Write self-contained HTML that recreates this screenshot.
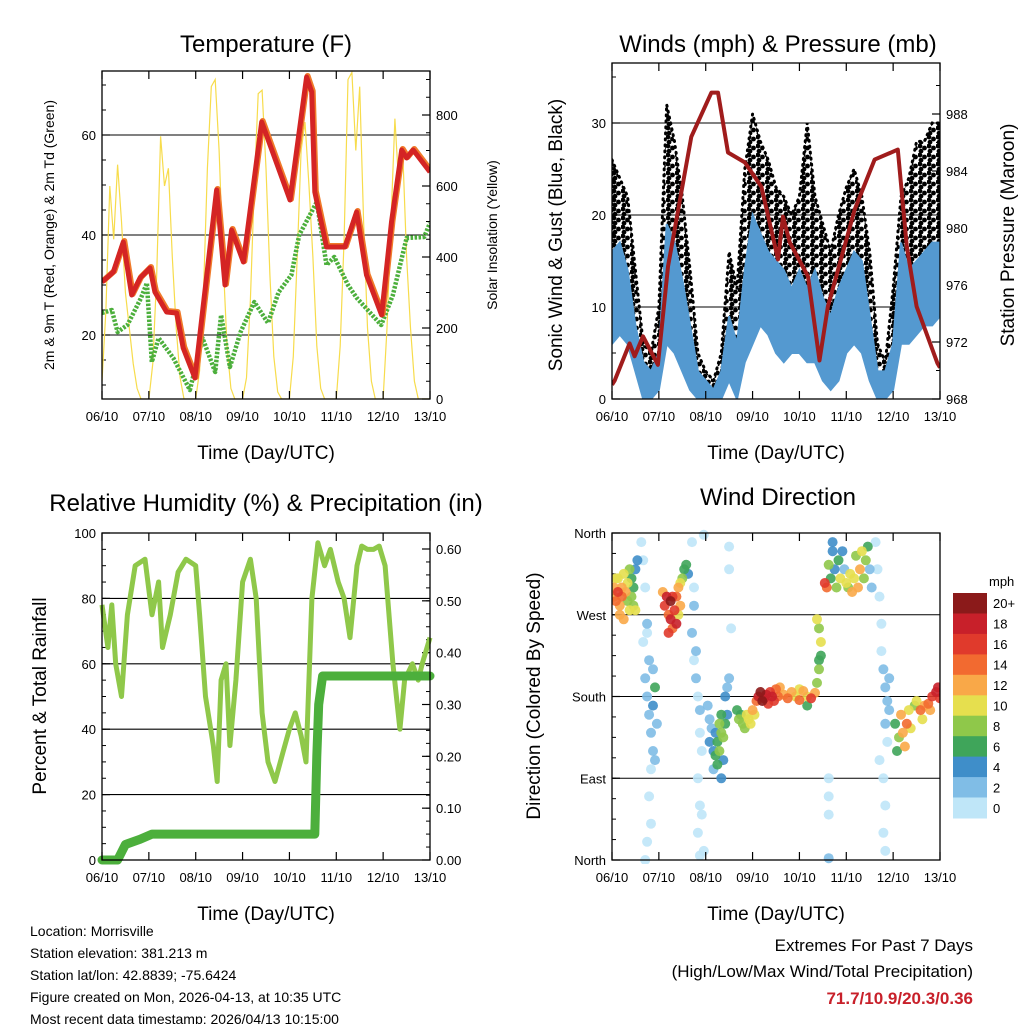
<!DOCTYPE html>
<html><head><meta charset="utf-8"><style>
html,body{margin:0;padding:0;background:#fff;}
svg{display:block;font-family:"Liberation Sans",sans-serif;}
</style></head><body>
<svg id="chart" width="1024" height="1024" viewBox="0 0 1024 1024" xmlns="http://www.w3.org/2000/svg">
<defs>
<pattern id="gustDots" width="9" height="9" patternUnits="userSpaceOnUse">
<circle cx="2" cy="2" r="2.4" fill="#000"/><circle cx="6.5" cy="4" r="2.4" fill="#000"/><circle cx="3" cy="7.2" r="2.4" fill="#000"/>
</pattern>
</defs>
<g id="root"></g>
</svg>
<script>
// ---------- data ----------
const dayLabels = ["06/10","07/10","08/10","09/10","10/10","11/10","12/10","13/10"];
// Temperature
const tempHours = [0,5.8,10.9,15.2,19.5,24.6,27.1,33.1,38.2,41.6,47.6,58.7,63,66.4,72.4,81.8,96.3,104.8,107.4,109,115,124.4,130.4,135.5,143.2,148.3,153.5,156,159.4,168];
const tempValues = [30.6,32.6,38.6,28,31.4,33.4,28.6,24.6,24.4,17.4,11.4,49,30,41,34.6,62.6,47,71.6,68.6,48.6,37.6,37.6,44.6,32,24,42.6,57,55.4,57,52.6];
const dewHours = [0,5,8,13,20,23,25.5,29,36.5,45,51.5,58,61,65.5,71,78,85,90.5,97,101,110,115,119,126,130.5,143,149,156,165,168];
const dewValues = [24.4,25,20.6,22,27.4,30.4,14.6,19.4,15.4,9,19.4,12.6,24,13.6,20.6,26.6,22.4,28.6,32,40,46.6,34,35.6,30,27.4,22,28,39.4,39.6,42.4];
// Solar insolation every 2 h from hour 0 to 168
const solarValues = [50,250,600,450,660,500,300,200,100,30,0,0,
 0,100,350,740,600,650,400,200,60,0,0,0,
 0,80,300,650,880,900,700,400,150,30,0,0,
 0,60,280,600,860,870,650,350,120,20,0,0,
 0,120,400,700,780,600,400,150,30,0,0,0,
 0,150,450,900,920,700,880,500,200,50,0,0,
 0,200,500,790,600,700,400,200,50,0,0,0,0];
// Winds every 4 h
const windHoursStep = 4;
const windLo = [6,7,6,3,0,0,1,6,5,3,1,0,0,0,0,2,0,4,6,8,7,5,4,5,5,4,4,2,1,2,5,6,5,2,0,0,1,6,6,7,8,8,9];
const windHi = [16,17,14,8,4,3,5,19,17,13,8,3,2,1,3,9,6,14,20,18,16,15,14,12,14,12,14,11,9,12,14,16,15,9,3,3,6,17,14,15,16,17,17];
const gustLo = [12,14,12,5,1,0,3,14,12,9,4,1,1,0,1,5,1,9,13,15,14,11,10,11,11,10,10,7,5,8,11,13,12,6,1,1,3,13,12,14,15,15,16];
const gustHi = [26,24,22,14,6,5,10,32,28,22,14,5,3,2,5,16,12,25,31,28,26,23,22,20,22,30,22,19,16,20,23,25,22,16,6,4,12,22,24,28,28,30,30];
const presHours = [0,1.4,9,11.6,15.9,23.5,28.7,40.6,50.9,54.3,59.4,68,76.5,85,87.6,91,100.4,106.3,110.6,124.3,134.5,146.4,151,156,166.7,168];
const presValues = [969,969.3,971.9,971,972.4,970.4,977.3,986.4,989.5,989.5,985.3,984.6,982.9,977.8,980.8,979,976.6,970.7,974.5,981.3,984.8,985.5,978.7,974.5,970.5,970.2];
// RH & precip
const rhHours = [0,3,5,7,10,13,17,22,25.6,29,31,35,39,43,48,50,53,57,59,61,63.5,65.5,68.6,72,76,79,82,85,88.6,92.7,96,99,102,104.5,107.5,110.6,114,117,121,124,127,130.6,133,136,139,142,145,149,152.6,155,159,162,164,168];
const rhValues = [78,65,78,60,50,75,90,92,75,85,65,75,88,92,90,75,50,35,24,55,60,35,55,85,92,80,45,30,24,33,40,45,38,30,80,97,90,95,85,80,68,90,96,95,95,96,90,60,40,55,60,55,60,68];
const precipHours = [0,8,12,19.5,25.6,109,110,111,113,168];
const precipValues = [0,0,0.03,0.04,0.05,0.05,0.20,0.30,0.355,0.355];
// Wind direction scatter
const dirHours = [1,1,2,3,3,4,5,5,6,7,8,8,9,10,10,11,12,13,12,4,6,2,9,11,
 15,16,17,18,16,17,18,19,20,21,22,21,20,19,20,18,17,22,23,21,19,18,
 26,27,28,29,30,30,31,32,33,33,34,35,36,37,38,39,35,29,31,34,
 41,42,42,41,42,43,43,44,45,45,46,44,45,44,45,47,46,47,
 49,50,50,51,52,52,53,53,54,54,55,55,56,56,57,57,58,58,59,60,59,56,
 60,60,61,
 64,65,66,67,68,69,70,71,72,73,74,
 75,76,77,78,79,80,81,82,83,84,85,86,
 88,90,92,94,96,98,100,102,104,105,106,107,107,106,105,106,100,96,
 111,111,111,111,
 109,110,111,112,113,113,114,115,116,117,118,119,120,121,122,123,124,125,126,127,128,129,130,131,132,133,
 135,136,137,138,138,139,140,141,142,140,141,139,140,139,140,137,142,
 145,146,147,148,149,150,151,152,153,155,156,158,160,162,164,166,167,163,159,168];
const dirDegs = [290,300,285,295,310,280,300,290,315,295,285,305,275,290,310,300,320,330,275,270,265,310,320,280,
 350,330,300,260,240,200,180,160,140,170,190,120,100,70,40,20,0,110,150,210,220,250,
 295,280,290,270,265,285,290,275,290,260,300,305,310,320,325,315,280,250,255,270,
 350,300,280,250,220,200,230,180,165,140,120,90,60,30,5,10,50,358,
 170,155,130,145,120,100,140,115,130,105,150,120,140,160,135,110,150,180,190,200,160,90,
 345,320,255,
 165,155,160,150,145,160,155,150,165,160,175,
 180,185,175,178,182,172,185,180,175,188,180,190,
 182,178,185,180,176,186,180,178,184,195,210,225,240,255,265,220,170,188,
 90,70,50,2,
 305,300,325,310,340,350,320,300,330,310,340,320,305,300,315,295,310,335,300,320,340,310,330,345,320,300,
 350,320,290,260,230,210,190,175,165,150,130,90,60,30,10,110,200,
 150,120,135,160,140,125,150,165,145,170,175,165,170,172,180,185,190,165,155,178];
const dirSpeeds = [13,12,14,16,11,12,13,15,10,12,9,11,10,8,7,6,5,4,10,13,12,10,9,8,
 1,1,1,2,1,2,3,2,3,4,7,2,1,1,1,1,1,3,2,2,3,1,
 12,16,18,15,18,20,17,16,14,18,12,10,8,6,7,5,12,16,15,11,
 1,1,2,2,1,2,2,1,2,1,1,1,1,1,1,1,1,1,
 3,3,4,3,4,3,5,6,7,6,8,8,9,7,8,5,6,4,3,2,5,5,
 1,1,1,
 6,8,7,9,8,10,11,10,12,11,14,
 18,20,20,19,18,17,16,18,16,14,15,12,
 12,14,13,11,15,12,10,16,12,8,9,6,10,9,10,7,6,10,
 1,1,1,2,
 16,14,8,7,4,4,5,9,6,10,4,3,10,9,11,12,10,8,13,12,10,8,9,6,3,2,
 1,1,1,1,1,2,3,2,3,2,1,1,1,1,1,1,3,
 6,6,8,12,13,12,14,11,10,8,11,14,13,15,16,18,18,12,11,17];
const speedColors = ["#bfe6f8","#80bde6","#3f8ec9","#3fa55a","#8fc84a","#e6df4e","#f9a848","#f26a30","#e03a2c","#c8202a","#8b1a1a"];
const speedLabels = ["0","2","4","6","8","10","12","14","16","18","20+"];

// ---------- helpers ----------
const NS = "http://www.w3.org/2000/svg";
const root = document.getElementById("root");
function mk(tag, attrs, parent, text){
  const e = document.createElementNS(NS, tag);
  for (const k in attrs) e.setAttribute(k, attrs[k]);
  if (text !== undefined) e.textContent = text;
  (parent || root).appendChild(e);
  return e;
}
function linScale(d0,d1,r0,r1){ return v => r0 + (v-d0)/(d1-d0)*(r1-r0); }
function pathFrom(xs, ys, fx, fy){
  let d = "";
  for (let i=0;i<xs.length;i++) d += (i?"L":"M") + fx(xs[i]).toFixed(1) + "," + fy(ys[i]).toFixed(1);
  return d;
}

function panelFrame(g, x0, y0, x1, y1){
  const r = mk("rect",{x:x0,y:y0,width:x1-x0,height:y1-y0,fill:"none",stroke:"#000","stroke-width":1.3},g);
  
  
}
function xAxis(g, x0, x1, y0, y1){
  const fx = linScale(0,168,x0,x1);
  for (let i=0;i<dayLabels.length;i++){
    const x = fx(i*24);
    mk("line",{x1:x,x2:x,y1:y1,y2:y1-8,stroke:"#000","stroke-width":1.2},g);
    mk("line",{x1:x,x2:x,y1:y0,y2:y0+8,stroke:"#000","stroke-width":1.2},g);
    const t = mk("text",{x:x,y:y1+22,"font-size":13,"text-anchor":"middle"},g,dayLabels[i]);
    
    
  }
  const tt = mk("text",{x:(x0+x1)/2,y:y1+60,"font-size":19,"text-anchor":"middle"},g,"Time (Day/UTC)");
  
  
}
function yTicks(g, vals, labels, fy, xEdge, side, x0, x1, grid, minorVals){
  for (let i=0;i<vals.length;i++){
    const y = fy(vals[i]);
    const dir = side==="left"?1:-1;
    mk("line",{x1:xEdge,x2:xEdge+dir*8,y1:y,y2:y,stroke:"#000","stroke-width":1.2},g);
    if (grid) mk("line",{x1:x0,x2:x1,y1:y,y2:y,stroke:"#000","stroke-width":1.1},g);
    const t = mk("text",{x: side==="left"? xEdge-6 : xEdge+6, y:y+5,"font-size":13,"text-anchor": side==="left"?"end":"start"},g,labels[i]);
    
    
  }
  if (minorVals) for (const v of minorVals){
    const y = fy(v); const dir = side==="left"?1:-1;
    mk("line",{x1:xEdge,x2:xEdge+dir*4,y1:y,y2:y,stroke:"#000","stroke-width":1},g);
  }
}
function vTitle(g, x, y, size, txt, name){
  const t = mk("text",{x:x,y:y,"font-size":size,"text-anchor":"middle",transform:`rotate(-90 ${x} ${y})`},g,txt);
  
  
}
function title(g, x, y, txt, name){
  const t = mk("text",{x:x,y:y,"font-size":24,"text-anchor":"middle"},g,txt);
  
  
}
function range(a,b,s){ const r=[]; for(let v=a; v<=b+1e-9; v+=s) r.push(+v.toFixed(4)); return r; }

// ---------- Panel 1: Temperature ----------
{
  const g = mk("g",{});
  
  
  const X0=102,X1=430,Y0=71,Y1=399;
  const fx = linScale(0,168,X0,X1);
  const fy = linScale(20,60,335,135);
  const fs = linScale(0,800,399,115);
  title(g,266,52,"Temperature (F)","temperature-title");
  yTicks(g,[20,40,60],["20","40","60"],fy,X0,"left",X0,X1,true,range(10,70,5));
  yTicks(g,[0,200,400,600,800],["0","200","400","600","800"],fs,X1,"right",X0,X1,false,range(0,900,50));
  const clip = mk("clipPath",{id:"c1"},g); mk("rect",{x:X0,y:Y0,width:X1-X0,height:Y1-Y0},clip);
  const pg = mk("g",{"clip-path":"url(#c1)"},g);
  const sh = solarValues.map((v,i)=>i*2);
  const s = mk("path",{d:pathFrom(sh,solarValues,fx,fs),fill:"none",stroke:"#f7dc4c","stroke-width":1.2},pg);
  
  
  const dp = mk("path",{d:pathFrom(dewHours,dewValues,fx,fy),fill:"none",stroke:"#4caf3c","stroke-width":4.5,"stroke-dasharray":"2.5 1.5","stroke-linejoin":"round"},pg);
  
  
  const o = mk("path",{d:pathFrom(tempHours,tempValues,fx,fy),fill:"none",stroke:"#f07a2a","stroke-width":6,"stroke-linejoin":"round",transform:"translate(1,-1)"},pg);
  
  
  const r = mk("path",{d:pathFrom(tempHours,tempValues,fx,fy),fill:"none",stroke:"#d42424","stroke-width":5,"stroke-linejoin":"round"},pg);
  
  
  panelFrame(g,X0,Y0,X1,Y1);
  xAxis(g,X0,X1,Y0,Y1);
  vTitle(g,54,235,14,"2m & 9m T (Red, Orange) & 2m Td (Green)","left-y-axis-title");
  vTitle(g,497,235,14,"Solar Insolation (Yellow)","right-y-axis-title");
}

// ---------- Panel 2: Winds ----------
{
  const g = mk("g",{});
  
  
  const X0=612,X1=940,Y0=63,Y1=399;
  const fx = linScale(0,168,X0,X1);
  const fy = linScale(0,30,399,123);
  const fp = linScale(968,988,399,114);
  title(g,778,52,"Winds (mph) & Pressure (mb)","winds-title");
  yTicks(g,[0,10,20,30],["0","10","20","30"],fy,X0,"left",X0,X1,true,range(0,35,5));
  yTicks(g,[968,972,976,980,984,988],["968","972","976","980","984","988"],fp,X1,"right",X0,X1,false,range(968,990,2));
  const clip = mk("clipPath",{id:"c2"},g); mk("rect",{x:X0,y:Y0,width:X1-X0,height:Y1-Y0},clip);
  const pg = mk("g",{"clip-path":"url(#c2)"},g);
  const wh = windLo.map((v,i)=>i*windHoursStep);
  function band(lo,hi){
    let d = "";
    for (let i=0;i<wh.length;i++) d += (i?"L":"M")+fx(wh[i]).toFixed(1)+","+fy(hi[i]).toFixed(1);
    for (let i=wh.length-1;i>=0;i--) d += "L"+fx(wh[i]).toFixed(1)+","+fy(lo[i]).toFixed(1);
    return d+"Z";
  }
  const gb = mk("path",{d:band(gustLo,gustHi),fill:"url(#gustDots)",stroke:"#000","stroke-width":3,"stroke-dasharray":"1 5","stroke-linecap":"round"},pg);
  
  
  const wb = mk("path",{d:band(windLo,windHi),fill:"#5499d0",stroke:"#5499d0","stroke-width":2},pg);
  
  
  const p = mk("path",{d:pathFrom(presHours,presValues,fx,fp),fill:"none",stroke:"#a01c1c","stroke-width":4,"stroke-linejoin":"round"},pg);
  
  
  panelFrame(g,X0,Y0,X1,Y1);
  xAxis(g,X0,X1,Y0,Y1);
  vTitle(g,562,235,19,"Sonic Wind & Gust (Blue, Black)","left-y-axis-title");
  vTitle(g,1014,235,19,"Station Pressure (Maroon)","right-y-axis-title");
}

// ---------- Panel 3: RH & precip ----------
{
  const g = mk("g",{});
  
  
  const X0=102,X1=430,Y0=533,Y1=860;
  const fx = linScale(0,168,X0,X1);
  const fy = linScale(0,100,860,533);
  const fr = linScale(0,0.6,860,549);
  title(g,266,511,"Relative Humidity (%) & Precipitation (in)","humidity-title");
  yTicks(g,[0,20,40,60,80,100],["0","20","40","60","80","100"],fy,X0,"left",X0,X1,false,range(0,100,5));
  for (const v of [20,40,60,80]) mk("line",{x1:X0,x2:X1,y1:fy(v),y2:fy(v),stroke:"#000","stroke-width":1.1},g);
  yTicks(g,[0,0.1,0.2,0.3,0.4,0.5,0.6],["0.00","0.10","0.20","0.30","0.40","0.50","0.60"],fr,X1,"right",X0,X1,false,range(0,0.6,0.025));
  const clip = mk("clipPath",{id:"c3"},g); mk("rect",{x:X0-5,y:Y0,width:X1-X0+10,height:Y1-Y0+5},clip);
  const pg = mk("g",{"clip-path":"url(#c3)"},g);
  const rh = mk("path",{d:pathFrom(rhHours,rhValues,fx,fy),fill:"none",stroke:"#8fc84a","stroke-width":5,"stroke-linejoin":"round"},pg);
  
  
  const pr = mk("path",{d:pathFrom(precipHours,precipValues,fx,fr),fill:"none",stroke:"#4caf3c","stroke-width":9,"stroke-linejoin":"round","stroke-linecap":"round"},pg);
  
  
  panelFrame(g,X0,Y0,X1,Y1);
  xAxis(g,X0,X1,Y0,Y1);
  vTitle(g,46,696,19,"Percent & Total Rainfall","left-y-axis-title");
}

// ---------- Panel 4: Wind direction ----------
{
  const g = mk("g",{});
  
  
  const X0=612,X1=940,Y0=533,Y1=860;
  const fx = linScale(0,168,X0,X1);
  const fy = linScale(0,360,860,533);
  title(g,778,505,"Wind Direction","wind-direction-title");
  yTicks(g,[0,90,180,270,360],["North","East","South","West","North"],fy,X0,"left",X0,X1,false,range(0,360,22.5));
  for (const v of [90,180,270]) mk("line",{x1:X0,x2:X1,y1:fy(v),y2:fy(v),stroke:"#000","stroke-width":1.1},g);
  const clip = mk("clipPath",{id:"c4"},g); mk("rect",{x:X0,y:Y0-4,width:X1-X0,height:Y1-Y0+8},clip);
  const pg = mk("g",{"clip-path":"url(#c4)"},g);
  const order = dirSpeeds.map((s,i)=>i).sort((a,b)=>dirSpeeds[a]-dirSpeeds[b]);
  for (const i of order){
    const ci = Math.min(10, Math.floor(dirSpeeds[i]/2));
    const c = mk("circle",{cx:fx(dirHours[i]).toFixed(1),cy:fy(dirDegs[i]).toFixed(1),r:5,fill:speedColors[ci],"fill-opacity":0.9},pg);
    
    
  }
  panelFrame(g,X0,Y0,X1,Y1);
  xAxis(g,X0,X1,Y0,Y1);
  vTitle(g,540,696,19,"Direction (Colored By Speed)","left-y-axis-title");
  // colorbar
  const cb = mk("g",{},g);
  
  
  const bh = 225/11;
  for (let k=0;k<11;k++){
    const idx = 10-k;
    const y = 593 + k*bh;
    mk("rect",{x:953,y:y.toFixed(1),width:34,height:(bh+0.5).toFixed(1),fill:speedColors[idx]},cb);
    const t = mk("text",{x:993,y:(y+bh/2+5).toFixed(1),"font-size":13},cb,speedLabels[idx]);
    
    
  }
  const u = mk("text",{x:989,y:586,"font-size":13},cb,"mph");
  
  
}

// ---------- footer ----------
{
  const lines = ["Location: Morrisville","Station elevation: 381.213 m","Station lat/lon: 42.8839; -75.6424","Figure created on Mon, 2026-04-13, at 10:35 UTC","Most recent data timestamp: 2026/04/13 10:15:00"];
  lines.forEach((s,i)=>{
    const t = mk("text",{x:30,y:936+i*22,"font-size":14},root,s);
    
    
  });
  const a = mk("text",{x:973,y:951,"font-size":17,"text-anchor":"end"},root,"Extremes For Past 7 Days");
  
  
  const b = mk("text",{x:973,y:977,"font-size":17,"text-anchor":"end"},root,"(High/Low/Max Wind/Total Precipitation)");
  
  
  const c = mk("text",{x:973,y:1004,"font-size":17,"text-anchor":"end","font-weight":"bold",fill:"#c8202a"},root,"71.7/10.9/20.3/0.36");
  
  
}
</script>
</body></html>
